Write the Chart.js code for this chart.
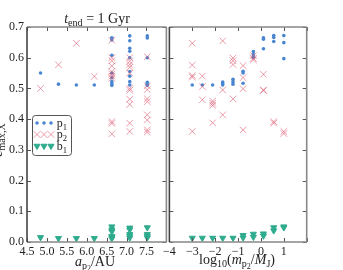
<!DOCTYPE html>
<html>
<head>
<meta charset="utf-8">
<script src="https://cdn.jsdelivr.net/npm/chart.js@4/dist/chart.umd.min.js"></script>
<style>
  body { margin: 0; background: #fff; }
  #wrap { position: relative; width: 343px; height: 270px; overflow: hidden; }
  canvas { position: absolute; top: 0; }
  .lbl { position: absolute; white-space: nowrap; font-family: "Liberation Serif", serif;
         color: #222; line-height: 1; transform: translateX(-50%); }
  .lbl sub { font-size: 72%; vertical-align: -0.3em; line-height: 0; }
  .lbl sub sub { font-size: 80%; }
</style>
</head>
<body>
<div id="wrap">
  <canvas id="left" width="172" height="270" style="left:0;width:172px;height:270px"></canvas>
  <canvas id="right" width="183" height="270" style="left:160px;width:183px;height:270px"></canvas>

  <div class="lbl" style="left:97px;top:12px;font-size:14px"><i>t</i><sub>end</sub> = 1 Gyr</div>
  <div class="lbl" style="left:95px;top:255px;font-size:14px"><i>a</i><sub>p<sub>2</sub></sub>/AU</div>
  <div class="lbl" style="left:237px;top:253px;font-size:14px">log<sub>10</sub>(<i>m</i><sub>p<sub>2</sub></sub>/<i>M</i><sub>J</sub>)</div>
  <div class="lbl" style="left:-2.5px;top:133px;font-size:14px;transform:translateX(-50%) rotate(-90deg)"><i>e</i><sub>max,X</sub></div>

  <div class="lbl" style="left:62px;top:117px;font-size:12px">p<sub>1</sub></div>
  <div class="lbl" style="left:62px;top:128px;font-size:12px">p<sub>2</sub></div>
  <div class="lbl" style="left:62px;top:140px;font-size:12px">b<sub>1</sub></div>
</div>
<script>
// left panel: planet 2 semi-major axis
const aP2 = [4.84, 5.29, 5.74, 6.19, 6.63, 7.08, 7.52];
const p1A = [
  [0.55],
  [0.514],
  [0.511],
  [0.511],
  [0.665, 0.658, 0.608, 0.55, 0.535, 0.522, 0.515, 0.51],
  [0.671, 0.655, 0.631, 0.621, 0.6, 0.555, 0.54, 0.522, 0.511],
  [0.671, 0.664, 0.6, 0.52, 0.514, 0.51]
];
const p2A = [
  [0.5],
  [0.577],
  [0.647],
  [0.539],
  [0.657, 0.6, 0.59, 0.573, 0.555, 0.547, 0.54, 0.533, 0.392, 0.386, 0.352],
  [0.6, 0.588, 0.578, 0.569, 0.55, 0.5, 0.494, 0.465, 0.448, 0.387, 0.36],
  [0.603, 0.508, 0.496, 0.466, 0.457, 0.414, 0.397, 0.365, 0.358]
];
const b1A = [
  [0.015],
  [0.012],
  [0.012],
  [0.012],
  [0.05, 0.04, 0.034, 0.019, 0.015, 0.011],
  [0.046, 0.04, 0.025, 0.02, 0.014],
  [0.047, 0.025, 0.019, 0.014]
];

// right panel: log10 planet 2 mass
const logM = [-3, -2.56, -2.11, -1.67, -1.22, -0.78, -0.33, 0.11, 0.56, 1.0];
const p1M = [[0.511], [0.511], [0.511], [0.521, 0.516, 0.511], [0.53, 0.522, 0.514],
  [0.556, 0.55, 0.517], [0.62, 0.61, 0.601], [0.665, 0.66, 0.629],
  [0.672, 0.666, 0.653], [0.672, 0.649, 0.597]];
const p2M = [[0.647, 0.576, 0.542, 0.537, 0.36], [0.54, 0.506, 0.463],
  [0.459, 0.452, 0.445, 0.388], [0.655, 0.495, 0.414], [0.599, 0.59, 0.578, 0.466],
  [0.574, 0.535, 0.499, 0.365], [0.607, 0.598, 0.593], [0.546, 0.495, 0.493],
  [0.392, 0.387], [0.36, 0.353]];
const b1M = [[0.013], [0.013], [0.013], [0.013], [0.013], [0.022, 0.014],
  [0.026, 0.016], [0.027, 0.02], [0.047, 0.037], [0.05, 0.047]];

const yTicks = [0, 0.1, 0.2, 0.3, 0.4, 0.5, 0.6, 0.7];

const BLUE = "#4a86d0";
const RED = "rgba(220, 90, 112, 0.6)";
const TEAL = "#2fab8e";

Chart.defaults.font.family = "'Liberation Serif', serif";
Chart.defaults.font.size = 12;
Chart.defaults.color = "#222";

function pts(xs, groups) {
  return xs.flatMap((x, i) => groups[i].map(y => ({ x: x, y: y })));
}

function datasets(xs, p1, p2, b1) {
  return [
    { label: "p1", data: pts(xs, p1), pointStyle: "circle", pointRadius: 1.8,
      backgroundColor: BLUE, borderWidth: 0, order: 2 },
    { label: "p2", data: pts(xs, p2), pointStyle: "crossRot", pointRadius: 4.6,
      borderColor: RED, borderWidth: 1, order: 1 },
    { label: "b1", data: pts(xs, b1), pointStyle: "triangle", pointRotation: 180,
      pointRadius: 3.5, backgroundColor: TEAL, borderColor: TEAL, borderWidth: 1, order: 0 }
  ];
}

// spines and inward ticks, matplotlib style
const frame = {
  id: "frame",
  afterDraw(chart) {
    const { ctx, chartArea: a, scales } = chart;
    ctx.save();
    ctx.strokeStyle = "#555";
    ctx.lineWidth = 1;
    scales.x.ticks.forEach(t => {
      const x = Math.round(scales.x.getPixelForValue(t.value)) + 0.5;
      ctx.beginPath();
      ctx.moveTo(x, a.bottom); ctx.lineTo(x, a.bottom - 4);
      ctx.moveTo(x, a.top); ctx.lineTo(x, a.top + 4);
      ctx.stroke();
    });
    scales.y.ticks.forEach(t => {
      const y = Math.round(scales.y.getPixelForValue(t.value)) + 0.5;
      ctx.beginPath();
      ctx.moveTo(a.left, y); ctx.lineTo(a.left + 4, y);
      ctx.moveTo(a.right, y); ctx.lineTo(a.right - 4, y);
      ctx.stroke();
    });
    ctx.lineWidth = 1.6;
    ctx.strokeStyle = "#888";
    ctx.beginPath();
    ctx.moveTo(a.left, a.top); ctx.lineTo(a.right, a.top);
    ctx.moveTo(a.left, a.bottom); ctx.lineTo(a.right, a.bottom);
    ctx.moveTo(a.right, a.top); ctx.lineTo(a.right, a.bottom);
    ctx.stroke();
    ctx.strokeStyle = "#444";
    ctx.beginPath();
    ctx.moveTo(a.left, a.top); ctx.lineTo(a.left, a.bottom);
    ctx.stroke();
    ctx.restore();
  }
};

// legend with three markers per entry
const legendBox = {
  id: "legendBox",
  afterDraw(chart) {
    const ctx = chart.ctx;
    ctx.save();
    ctx.fillStyle = "#fff";
    ctx.strokeStyle = "#555";
    ctx.lineWidth = 1;
    ctx.beginPath();
    ctx.roundRect(32.5, 115.5, 39, 40, 3);
    ctx.fill();
    ctx.stroke();
    const rows = [123, 134.5, 146];
    chart.data.datasets.forEach((ds, i) => {
      ctx.fillStyle = ds.backgroundColor || "transparent";
      ctx.strokeStyle = ds.borderColor || ds.backgroundColor;
      ctx.lineWidth = ds.borderWidth;
      [37, 44, 51].forEach(x => {
        Chart.helpers.drawPoint(ctx, {
          pointStyle: ds.pointStyle, radius: ds.pointRadius,
          rotation: ds.pointRotation || 0, borderWidth: ds.borderWidth
        }, x, rows[i]);
      });
    });
    ctx.restore();
  }
};

function yScale(showLabels, width) {
  return {
    min: 0, max: 0.7,
    afterBuildTicks: s => { s.ticks = yTicks.map(v => ({ value: v })); },
    afterFit: s => { s.width = width; },
    grid: { display: false, drawTicks: false },
    border: { display: false },
    ticks: { display: showLabels, padding: 3, callback: v => v.toFixed(1) }
  };
}

new Chart(document.getElementById("left"), {
  type: "scatter",
  data: { datasets: datasets(aP2, p1A, p2A, b1A) },
  options: {
    responsive: false, animation: false,
    layout: { padding: { top: 27, right: 5, left: 0, bottom: 0 } },
    plugins: { legend: { display: false }, tooltip: { enabled: false } },
    scales: {
      x: {
        min: 4.5, max: 8.0,
        afterFit: s => { s.height = 28; },
        grid: { display: false, drawTicks: false },
        border: { display: false },
        ticks: { stepSize: 0.5, padding: 3, autoSkip: false, maxRotation: 0,
          callback: v => (v >= 8 ? "" : v.toFixed(1)) }
      },
      y: yScale(true, 27)
    }
  },
  plugins: [frame, legendBox]
});

new Chart(document.getElementById("right"), {
  type: "scatter",
  data: { datasets: datasets(logM, p1M, p2M, b1M) },
  options: {
    responsive: false, animation: false,
    layout: { padding: { top: 27, right: 36.3, left: 0, bottom: 0 } },
    plugins: { legend: { display: false }, tooltip: { enabled: false } },
    scales: {
      x: {
        min: -4, max: 2,
        afterFit: s => { s.height = 28; },
        grid: { display: false, drawTicks: false },
        border: { display: false },
        ticks: { stepSize: 1, padding: 3, autoSkip: false, maxRotation: 0,
          callback: v => (v >= 2 ? "" : (v < 0 ? "\u2212" + Math.abs(v) : String(v))) }
      },
      y: yScale(false, 7.5)
    }
  },
  plugins: [frame]
});
</script>
</body>
</html>
